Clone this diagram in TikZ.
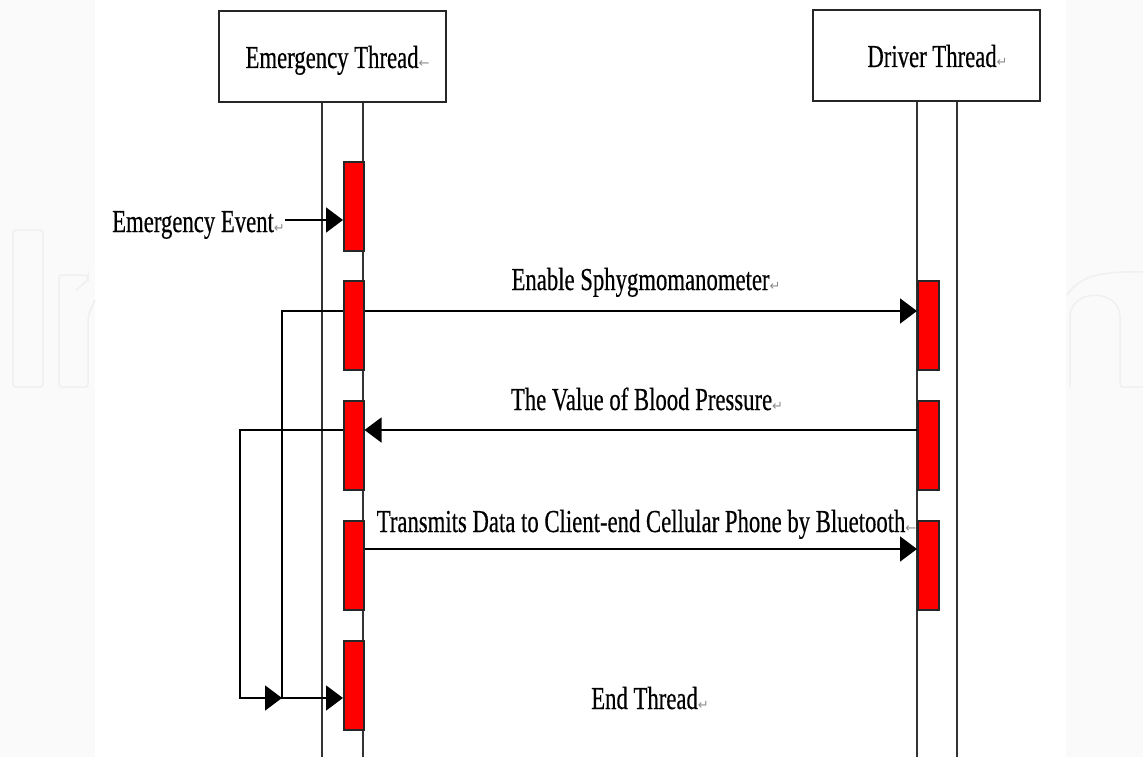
\documentclass[tikz,border=0pt]{standalone}
\usepackage{fontspec}
\setmainfont{Liberation Serif}[FakeStretch=0.71,FakeBold=0.4]
\newfontfamily\symfont{DejaVu Sans}
\usetikzlibrary{arrows.meta}
\newcommand{\retmark}{{\color{black!45}\symfont\fontsize{13}{13}\selectfont ↵}}
\newcommand{\lmark}{{\color{black!45}\symfont\fontsize{13}{13}\selectfont ←}}

\begin{document}
\begin{tikzpicture}[x=1pt,y=-1pt,
  lbl/.style={font=\fontsize{32}{38}\selectfont, inner sep=0pt, anchor=base},
  headbox/.style={draw=black!85, line width=2pt, minimum width=227pt, minimum height=91pt, inner sep=0pt},
  life/.style={draw=black!80, line width=1.5pt},
  act/.style={draw=black!85, fill=red, line width=1.5pt, minimum width=20pt, minimum height=89pt, inner sep=0pt, anchor=north west},
  msg/.style={draw=black, line width=1.6pt},
  arr/.style={msg, -{Triangle[length=17pt,width=25pt]}},
  wm/.style={draw=black!6, line width=1.5pt, rounded corners=3pt},
]
\useasboundingbox (0,0) rectangle (1143,757);
\fill[black!2] (0,0) rectangle (1143,757);
\fill[white] (95,0) rectangle (1066,757);

% faint watermark
\draw[wm] (13,230) rectangle (43,387);
\draw[wm] (76,290) -- (88,280) -- (88,275) -- (59,275) -- (59,387) -- (88,387) -- (88,330) .. controls (88,315) .. (95,300);
\draw[wm] (1070,387) -- (1070,320) .. controls (1070,288) and (1120,288) .. (1120,320) -- (1120,387) -- (1143,387);
\draw[wm] (1067,295) .. controls (1080,276) and (1100,271) .. (1143,272);

% lifelines
\draw[life] (322,102) -- (322,760);
\draw[life] (363,102) -- (363,760);
\draw[life] (917,101) -- (917,760);
\draw[life] (957,101) -- (957,760);

% heads
\node[headbox] (eh) at (332.5,56.5) {};
\node[headbox] (dh) at (926.5,56) {};
\node[lbl] (eht) at (337.5,68) {Emergency Thread\lmark};
\node[lbl] (dht) at (937.5,67) {Driver Thread\retmark};

% activations
\node[act] (e1) at (343,161) {};
\node[act] (e2) at (343,280) {};
\node[act] (e3) at (343,400) {};
\node[act] (e4) at (343,520) {};
\node[act] (e5) at (343,640) {};
\node[act, minimum width=21pt] (d1) at (917,280) {};
\node[act, minimum width=21pt] (d2) at (917,400) {};
\node[act, minimum width=21pt] (d3) at (917,520) {};

% helper coordinates
\coordinate (y0) at (0,220);
\coordinate (y1) at (0,311);
\coordinate (y2) at (0,430);
\coordinate (y3) at (0,549);
\coordinate (y4) at (0,698);
\coordinate (x1) at (282,0);
\coordinate (x2) at (240,0);

% messages
\node[lbl, anchor=base east] (ev) at (285,232) {Emergency Event\retmark};
\draw[arr] (ev.east |- y0) -- (e1.west |- y0);
\draw[arr] (e2.east |- y1) -- (d1.west |- y1);
\draw[arr] (d2.west |- y2) -- (e3.east |- y2);
\draw[arr] (e4.east |- y3) -- (d3.west |- y3);
\draw[arr] (e2.west |- y1) -- (x1 |- y1) -- (x1 |- y4) -- (e5.west |- y4);
\draw[arr] (e3.west |- y2) -- (x2 |- y2) -- (x2 |- y4) -- (x1 |- y4);

% labels
\node[lbl] (m1) at (646,290) {Enable Sphygmomanometer\retmark};
\node[lbl] (m2) at (647,410) {The Value of Blood Pressure\retmark};
\node[lbl] (m3) at (646.5,532) {Transmits Data to Client-end Cellular Phone by Bluetooth\lmark};
\node[lbl] (m4) at (650,709) {End Thread\retmark};
\end{tikzpicture}
\end{document}
